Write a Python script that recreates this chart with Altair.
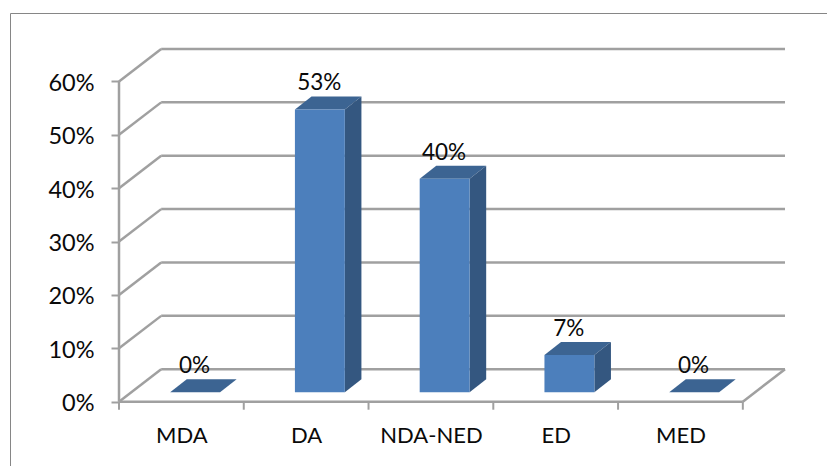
import altair as alt
import pandas as pd

# Chart values
CATEGORIES = ["MDA", "DA", "NDA-NED", "ED", "MED"]
VALUES = [0, 53, 40, 7, 0]
Y_TICKS = [0, 10, 20, 30, 40, 50, 60]

# Oblique projection, in axis units (x: category slots, y: percent)
WALL_DX, WALL_DY = 0.338, 6.08
BAR_DX, BAR_DY = 0.133, 2.44
BAR_BASE = 1.76
BAR_START, BAR_WIDTH = 0.41, 0.40

X_MAX = len(CATEGORIES) + WALL_DX
Y_MAX = Y_TICKS[-1] + WALL_DY
FONT = "Lato"
TEXT_COLOR = "#0a0a0a"
GRID_COLOR = "#a0a0a0"
FRONT, TOP, SIDE = "#4c7fbc", "#3c6492", "#345780"

# Wall and floor lines
segments = []
for t in Y_TICKS:
    segments.append(dict(x=0, y=t, x2=WALL_DX, y2=t + WALL_DY))
    segments.append(dict(x=WALL_DX, y=t + WALL_DY, x2=X_MAX, y2=t + WALL_DY))
segments.append(dict(x=0, y=0, x2=0, y2=Y_TICKS[-1]))
segments.append(dict(x=0, y=0, x2=len(CATEGORIES), y2=0))
segments.append(dict(x=len(CATEGORIES), y=0, x2=X_MAX, y2=WALL_DY))

# Bar faces
fronts, faces, labels = [], [], []
for i, (cat, v) in enumerate(zip(CATEGORIES, VALUES)):
    x0 = i + BAR_START
    x1 = x0 + BAR_WIDTH
    top = BAR_BASE + v
    fronts.append(dict(x=x0, x2=x1, y=BAR_BASE, y2=top))
    for x, lo, hi in [
        (x0, top, top),
        (x0 + BAR_DX, top, top + BAR_DY),
        (x1, top, top + BAR_DY),
        (x1 + BAR_DX, top + BAR_DY, top + BAR_DY),
    ]:
        faces.append(dict(face=f"top-{cat}", kind="top", x=x, lo=lo, hi=hi))
    for x, lo, hi in [
        (x1, BAR_BASE, top),
        (x1 + BAR_DX, BAR_BASE + BAR_DY, top + BAR_DY),
    ]:
        faces.append(dict(face=f"side-{cat}", kind="side", x=x, lo=lo, hi=hi))
    labels.append(dict(x=(x0 + x1) / 2 - 0.005, y=top + BAR_DY, text=f"{v}%"))

x_scale = alt.Scale(domain=[0, X_MAX], nice=False, zero=False)
y_scale = alt.Scale(domain=[0, Y_MAX], nice=False, zero=False)

x_axis = alt.Axis(
    values=[i + 0.5 for i in range(len(CATEGORIES))],
    labelExpr="{0: 'MDA', 1: 'DA', 2: 'NDA-NED', 3: 'ED', 4: 'MED'}[floor(datum.value)]",
    title=None, grid=False, domain=False, ticks=False,
    labelFont=FONT, labelFontSize=22, labelColor=TEXT_COLOR,
    labelPadding=24, labelFlush=False, labelOverlap=False,
)
y_axis = alt.Axis(
    values=Y_TICKS, labelExpr="datum.value + '%'",
    title=None, grid=False, domain=False,
    tickColor=GRID_COLOR, tickWidth=2, tickSize=8,
    labelFont=FONT, labelFontSize=23.5, labelColor=TEXT_COLOR, labelPadding=17,
    labelOffset=2,
)

# Outer frame around the chart area
frame_top = alt.Chart(pd.DataFrame({"k": [0]})).mark_rule(color="#868686", strokeWidth=1).encode(
    x=alt.value(-108.5), x2=alt.value(720), y=alt.value(-35.5))
frame_left = alt.Chart(pd.DataFrame({"k": [0]})).mark_rule(color="#868686", strokeWidth=1).encode(
    x=alt.value(-108.5), y=alt.value(-35.5), y2=alt.value(430))

grid = alt.Chart(pd.DataFrame(segments)).mark_rule(
    color=GRID_COLOR, strokeWidth=2.5
).encode(
    x=alt.X("x:Q", scale=x_scale, axis=x_axis),
    y=alt.Y("y:Q", scale=y_scale, axis=y_axis),
    x2="x2:Q", y2="y2:Q",
)

# Category boundary ticks under the floor
ticks = alt.Chart(pd.DataFrame({"x": list(range(len(CATEGORIES) + 1))})).mark_rule(
    color=GRID_COLOR, strokeWidth=2
).encode(
    x=alt.X("x:Q", scale=x_scale, axis=x_axis),
    y=alt.value(352.7), y2=alt.value(360.7),
)

front = alt.Chart(pd.DataFrame(fronts)).mark_rect(color=FRONT).encode(
    x=alt.X("x:Q", scale=x_scale, axis=x_axis), x2="x2:Q",
    y=alt.Y("y:Q", scale=y_scale, axis=y_axis), y2="y2:Q",
)

depth = alt.Chart(pd.DataFrame(faces)).mark_area(opacity=1, interpolate="linear").encode(
    x=alt.X("x:Q", scale=x_scale, axis=x_axis),
    y=alt.Y("lo:Q", scale=y_scale, axis=y_axis, stack=None),
    y2="hi:Q",
    detail="face:N",
    color=alt.Color("kind:N", scale=alt.Scale(domain=["top", "side"], range=[TOP, SIDE]), legend=None),
)

value_text = alt.Chart(pd.DataFrame(labels)).mark_text(
    font=FONT, fontSize=22.5, color=TEXT_COLOR, baseline="alphabetic", align="center", dy=-6
).encode(
    x=alt.X("x:Q", scale=x_scale, axis=x_axis),
    y=alt.Y("y:Q", scale=y_scale, axis=y_axis),
    text="text:N",
)

chart = alt.layer(frame_top, frame_left, grid, ticks, depth, front, value_text).properties(
    width=666, height=352.7,
    padding={"left": 119, "top": 49, "right": 42, "bottom": 64.3},
    autosize=alt.AutoSizeParams(type="none"),
    background="white",
).configure_view(stroke=None)

chart.save("out.html", embed_options={"renderer": "svg", "actions": False})
